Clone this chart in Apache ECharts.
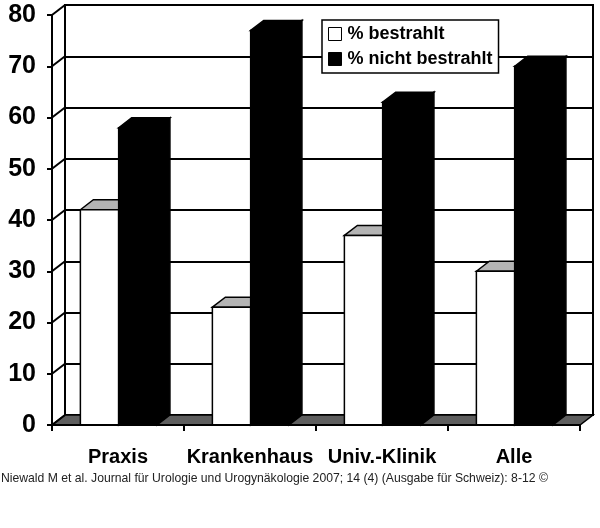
<!DOCTYPE html>
<html>
<head>
<meta charset="utf-8">
<script src="https://cdn.jsdelivr.net/npm/echarts@6/dist/echarts.min.js"></script>
<style>
html,body{margin:0;padding:0;background:#fff;}
#main{width:600px;height:528px;}
</style>
</head>
<body>
<div id="main"></div>
<script>
var categories = ['Praxis', 'Krankenhaus', 'Univ.-Klinik', 'Alle'];
var bestrahlt = [42, 23, 37, 30];
var nichtBestrahlt = [58, 77, 63, 70];
var yTicks = [0, 10, 20, 30, 40, 50, 60, 70, 80];

// depth of the fake 3D box
var DX = 13, DY = 10;

var myChart = echarts.init(document.getElementById('main'));

// one 3D bar: front face, top, side
function bar3d(params, api, which) {
    var i = api.value(0);
    var base = api.coord([i, 0]);
    var top = api.coord([i, api.value(1)]);
    var cw = api.size([1, 0])[0];
    var left = base[0] - cw / 2;
    var w = cw * 0.29;
    var x0 = which === 0 ? left + cw * 0.215 : left + cw * 0.215 + w;
    var ty = top[1], by = base[1];
    var fill = which === 0 ? '#fff' : '#000';
    var topFill = which === 0 ? '#b4b4b4' : '#000';
    return {
        type: 'group',
        children: [
            {
                type: 'polygon',
                shape: {points: [[x0 + w, ty], [x0 + w + DX, ty - DY], [x0 + w + DX, by - DY], [x0 + w, by]]},
                style: {fill: fill, stroke: '#000', lineWidth: 1.5}
            },
            {
                type: 'polygon',
                shape: {points: [[x0, ty], [x0 + DX, ty - DY], [x0 + w + DX, ty - DY], [x0 + w, ty]]},
                style: {fill: topFill, stroke: '#000', lineWidth: 1.5}
            },
            {
                type: 'rect',
                shape: {x: x0, y: ty, width: w, height: by - ty},
                style: {fill: fill, stroke: '#000', lineWidth: 1.5}
            }
        ]
    };
}

var option = {
    animation: false,
    backgroundColor: '#fff',
    title: {
        text: 'Niewald M et al. Journal für Urologie und Urogynäkologie 2007; 14 (4) (Ausgabe für Schweiz): 8-12 ©',
        left: 1,
        top: 473,
        padding: 0,
        textStyle: {fontFamily: 'Liberation Sans, Arial', fontSize: 12.2, fontWeight: 'normal', color: '#222'}
    },
    legend: {
        orient: 'vertical',
        left: 322,
        top: 20,
        width: 174,
        backgroundColor: '#fff',
        borderColor: '#000',
        borderWidth: 1.5,
        padding: [5, 6, 5, 6],
        itemGap: 7,
        itemWidth: 13,
        itemHeight: 13,
        icon: 'rect',
        textStyle: {fontFamily: 'Liberation Sans, Arial', fontSize: 18, fontWeight: 'bold', color: '#000', padding: [0, 0, 0, 1]},
        data: [
            {name: '% bestrahlt', itemStyle: {color: '#fff', borderColor: '#000', borderWidth: 1}},
            {name: '% nicht bestrahlt', itemStyle: {color: '#000', borderColor: '#000', borderWidth: 1}}
        ]
    },
    grid: [
        {left: 52, right: 20, top: 15, bottom: 103},
        {left: 52 + DX, right: 20 - DX, top: 15 - DY, bottom: 103 + DY,
         show: true, borderColor: '#000', borderWidth: 2, backgroundColor: 'transparent', z: 0}
    ],
    xAxis: [
        {
            type: 'category', gridIndex: 0, data: categories,
            axisLine: {lineStyle: {color: '#000', width: 2}},
            axisTick: {show: true, interval: 0, length: 6, lineStyle: {color: '#000', width: 2}},
            axisLabel: {interval: 0, margin: 22, fontFamily: 'Liberation Sans, Arial', fontSize: 20, fontWeight: 'bold', color: '#000'},
            z: 5
        },
        {type: 'category', gridIndex: 1, data: categories, show: false}
    ],
    yAxis: [
        {
            type: 'value', gridIndex: 0, min: 0, max: 80, interval: 10,
            axisLine: {show: true, lineStyle: {color: '#000', width: 2}},
            axisTick: {show: true, length: 5, lineStyle: {color: '#000', width: 2}},
            axisLabel: {margin: 16, fontFamily: 'Liberation Sans, Arial', fontSize: 25, fontWeight: 'bold', color: '#000'},
            splitLine: {show: false},
            z: 5
        },
        {
            type: 'value', gridIndex: 1, min: 0, max: 80, interval: 10,
            axisLine: {show: false}, axisTick: {show: false}, axisLabel: {show: false},
            splitLine: {show: true, lineStyle: {color: '#000', width: 2}},
            z: 0
        }
    ],
    series: [
        {
            // floor and side wall lines of the box
            type: 'custom',
            name: 'frame',
            xAxisIndex: 0, yAxisIndex: 0,
            z: 1,
            silent: true,
            data: yTicks.map(function (t) { return [0, t]; }),
            renderItem: function (params, api) {
                var cs = params.coordSys;
                var y = api.coord([0, api.value(1)])[1];
                var children = [{
                    type: 'line',
                    shape: {x1: cs.x, y1: y, x2: cs.x + DX, y2: y - DY},
                    style: {stroke: '#000', lineWidth: 2}
                }];
                if (api.value(1) === 0) {
                    children.unshift({
                        type: 'polygon',
                        shape: {points: [[cs.x, y], [cs.x + cs.width, y], [cs.x + cs.width + DX, y - DY], [cs.x + DX, y - DY]]},
                        style: {fill: '#5e5e5e', stroke: '#000', lineWidth: 1.5}
                    });
                }
                return {type: 'group', children: children};
            }
        },
        {
            type: 'custom',
            name: '% bestrahlt',
            xAxisIndex: 0, yAxisIndex: 0,
            z: 2,
            itemStyle: {color: '#fff', borderColor: '#000'},
            data: bestrahlt.map(function (v, i) { return [i, v]; }),
            renderItem: function (params, api) { return bar3d(params, api, 0); }
        },
        {
            type: 'custom',
            name: '% nicht bestrahlt',
            xAxisIndex: 0, yAxisIndex: 0,
            z: 3,
            itemStyle: {color: '#000'},
            data: nichtBestrahlt.map(function (v, i) { return [i, v]; }),
            renderItem: function (params, api) { return bar3d(params, api, 1); }
        }
    ]
};

myChart.setOption(option);
</script>
</body>
</html>
